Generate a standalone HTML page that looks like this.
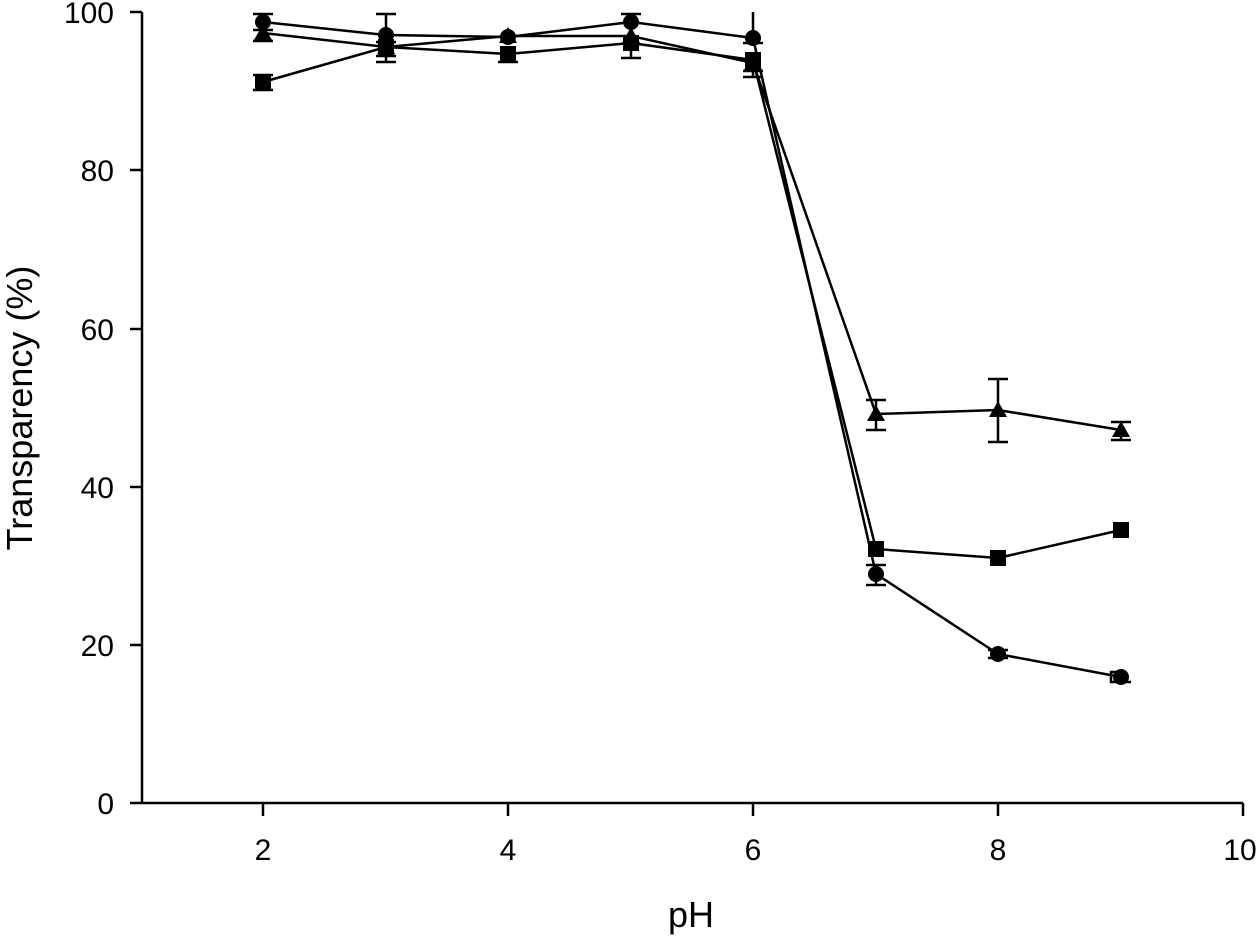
<!DOCTYPE html>
<html><head><meta charset="utf-8"><style>body{margin:0;background:#fff}</style></head><body>
<svg width="1260" height="936" xmlns="http://www.w3.org/2000/svg" font-family="Liberation Sans, Arial, sans-serif">
<g stroke="#000" stroke-width="2.5" fill="none">
<line x1="142" y1="803" x2="142" y2="12"/>
<line x1="130" y1="803" x2="1243" y2="803"/>
<line x1="130" y1="12" x2="142" y2="12"/><line x1="130" y1="170" x2="142" y2="170"/><line x1="130" y1="329" x2="142" y2="329"/><line x1="130" y1="487" x2="142" y2="487"/><line x1="130" y1="645" x2="142" y2="645"/>
<line x1="263" y1="803" x2="263" y2="816"/><line x1="508" y1="803" x2="508" y2="816"/><line x1="753" y1="803" x2="753" y2="816"/><line x1="998" y1="803" x2="998" y2="816"/><line x1="1243" y1="803" x2="1243" y2="816"/>
</g>
<g font-size="30" fill="#000" text-anchor="end">
<text x="114" y="23">100</text><text x="114" y="181">80</text><text x="114" y="340">60</text><text x="114" y="498">40</text><text x="114" y="656">20</text><text x="114" y="814">0</text>
</g>
<g font-size="30" fill="#000" text-anchor="middle">
<text x="263" y="860">2</text><text x="508" y="860">4</text><text x="753" y="860">6</text><text x="998" y="860">8</text><text x="1240" y="860">10</text>
<text x="691" y="927" font-size="36">pH</text>
<text transform="translate(32,408) rotate(-90)" font-size="36">Transparency (%)</text>
</g>
<g stroke="#000" stroke-width="2.5" fill="none">
<path d="M263 14V30M253 14h20M253 30h20 M386 14V62M376 14h20M376 62h20 M376 56h20M376 42h20 M631 14v8M621 14h20 M631 39V58M621 58h20 M753 12v26M743 43h20 M753 55v22M743 71h20M743 77h20 M876 400v30M866 400h20M866 430h20 M998 379v63M988 379h20M988 442h20 M876 565v20M866 565h20M866 585h20 M1121 422v18M1111 422h20M1111 440h20 M998 650v8M988 650h20M988 658h20 M1121 672h-10v10h20 M263 75v15M253 75h20M253 90h20 M508 47v15M498 62h20 M253 41h20"/>
<polyline points="263,22 386,35 508,37 631,22 753,38 876,574 998,654 1121,677"/>
<polyline points="263,33 386,47 508,36 631,36 753,63 876,414 998,410 1121,430"/>
<polyline points="263,82 386,47 508,54 631,43 753,60 876,549 998,558 1121,530"/>
</g>
<g fill="#000">
<circle cx="263" cy="22" r="8"/><circle cx="386" cy="35" r="8"/><circle cx="508" cy="37" r="8"/><circle cx="631" cy="22" r="8"/><circle cx="753" cy="38" r="8"/><circle cx="876" cy="574" r="8"/><circle cx="998" cy="654" r="8"/><circle cx="1121" cy="677" r="8"/>
<polygon points="263,24 272,40 254,40"/><polygon points="386,38 395,54 377,54"/><polygon points="508,27 517,43 499,43"/><polygon points="631,27 640,43 622,43"/><polygon points="753,54 762,70 744,70"/><polygon points="876,405 885,421 867,421"/><polygon points="998,401 1007,417 989,417"/><polygon points="1121,421 1130,437 1112,437"/>
<rect x="255" y="74" width="16" height="16"/><rect x="378" y="39" width="16" height="16"/><rect x="500" y="46" width="16" height="16"/><rect x="623" y="35" width="16" height="16"/><rect x="745" y="52" width="16" height="16"/><rect x="868" y="541" width="16" height="16"/><rect x="990" y="550" width="16" height="16"/><rect x="1113" y="522" width="16" height="16"/>
</g>
</svg>
</body></html>
